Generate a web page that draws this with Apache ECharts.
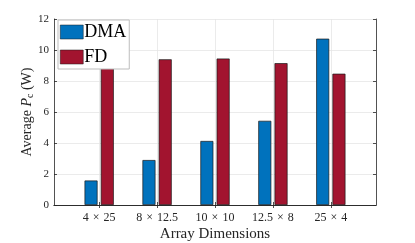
<!DOCTYPE html>
<html><head><meta charset="utf-8">
<script src="https://cdn.jsdelivr.net/npm/echarts@6/dist/echarts.min.js"></script>
<style>html,body{margin:0;padding:0;background:#fff}#c{width:415px;height:243px}</style>
</head><body><div id="c"></div>
<script>
const categories = ['4 \u00d7 25', '8 \u00d7 12.5', '10 \u00d7 10', '12.5 \u00d7 8', '25 \u00d7 4'];
const dmaValues = [1.58, 2.9, 4.13, 5.43, 10.73];
const fdValues = [8.84, 9.4, 9.45, 9.15, 8.47];
const yTicks = [0, 2, 4, 6, 8, 10, 12];

const positions = categories.map((_, i) => i + 1);
const font = 'Liberation Serif';
const chart = echarts.init(document.getElementById('c'), null, {renderer: 'canvas'});
const axisLine = {show: true, lineStyle: {color: '#262626', width: 0.8}};
const tick = {show: true, inside: true, length: 3, lineStyle: {color: '#262626', width: 0.8}};
const splitLine = {show: true, lineStyle: {color: '#e6e6e6', width: 0.8}};
const xBase = {type: 'value', min: 0.22, max: 5.78, axisLine,
  axisTick: Object.assign({customValues: positions}, tick), splitLine};
chart.setOption({
  animation: false,
  textStyle: {fontFamily: font},
  grid: {left: 54, right: 39, top: 19, bottom: 38, containLabel: false, outerBoundsMode: 'none'},
  legend: {
    left: 58, top: 20, orient: 'vertical', itemWidth: 23, itemHeight: 14, itemGap: 7, icon: 'rect',
    itemStyle: {borderWidth: 0.5, borderColor: '#1a1a1a'},
    padding: [3, 3, 3, 2], backgroundColor: '#fff', borderColor: '#bdbdbd', borderWidth: 1, borderRadius: 0,
    textStyle: {fontFamily: font, fontSize: 18, color: '#000', padding: [0, 0, 0, -4]},
    data: ['DMA', 'FD']
  },
  xAxis: [
    Object.assign({}, xBase, {
      position: 'bottom',
      name: 'Array Dimensions', nameLocation: 'middle', nameGap: 22, nameMoveOverlap: false,
      nameTextStyle: {fontFamily: font, fontSize: 15, color: '#262626'},
      axisLabel: {customValues: positions,
        formatter: v => categories[Math.round(v) - 1].replace(/ /g, '\u2004'),
        fontFamily: font, fontSize: 12, color: '#262626', margin: 7}
    }),
    Object.assign({}, xBase, {position: 'top', axisLabel: {show: false}, splitLine: {show: false}})
  ],
  yAxis: [
    {type: 'value', min: 0, max: 12, interval: 2, position: 'left', axisLine, axisTick: tick, splitLine,
      name: '{n|Average }{i|P}{s|c}{n| (W)}', nameLocation: 'middle', nameGap: 19, nameRotate: 90,
      nameMoveOverlap: false,
      nameTextStyle: {rich: {
        n: {fontFamily: font, fontSize: 14, color: '#262626'},
        i: {fontFamily: font, fontSize: 14, fontStyle: 'italic', color: '#262626'},
        s: {fontFamily: font, fontSize: 10, color: '#262626', verticalAlign: 'bottom', padding: [6, 0, 0, 0]}
      }},
      axisLabel: {fontFamily: font, fontSize: 11, color: '#262626', margin: 5}},
    {type: 'value', min: 0, max: 12, interval: 2, position: 'right', axisLine, axisTick: tick,
      splitLine: {show: false}, axisLabel: {show: false}}
  ],
  series: [
    {name: 'DMA', type: 'bar', xAxisIndex: 0, yAxisIndex: 0, barWidth: 13, barGap: '25%',
      itemStyle: {color: '#0072BD', borderColor: '#1a1a1a', borderWidth: 0.7},
      data: positions.map((p, i) => [p, dmaValues[i]])},
    {name: 'FD', type: 'bar', xAxisIndex: 0, yAxisIndex: 0, barWidth: 13, barGap: '25%',
      itemStyle: {color: '#A2142F', borderColor: '#1a1a1a', borderWidth: 0.7},
      data: positions.map((p, i) => [p, fdValues[i]])}
  ]
});
</script></body></html>
